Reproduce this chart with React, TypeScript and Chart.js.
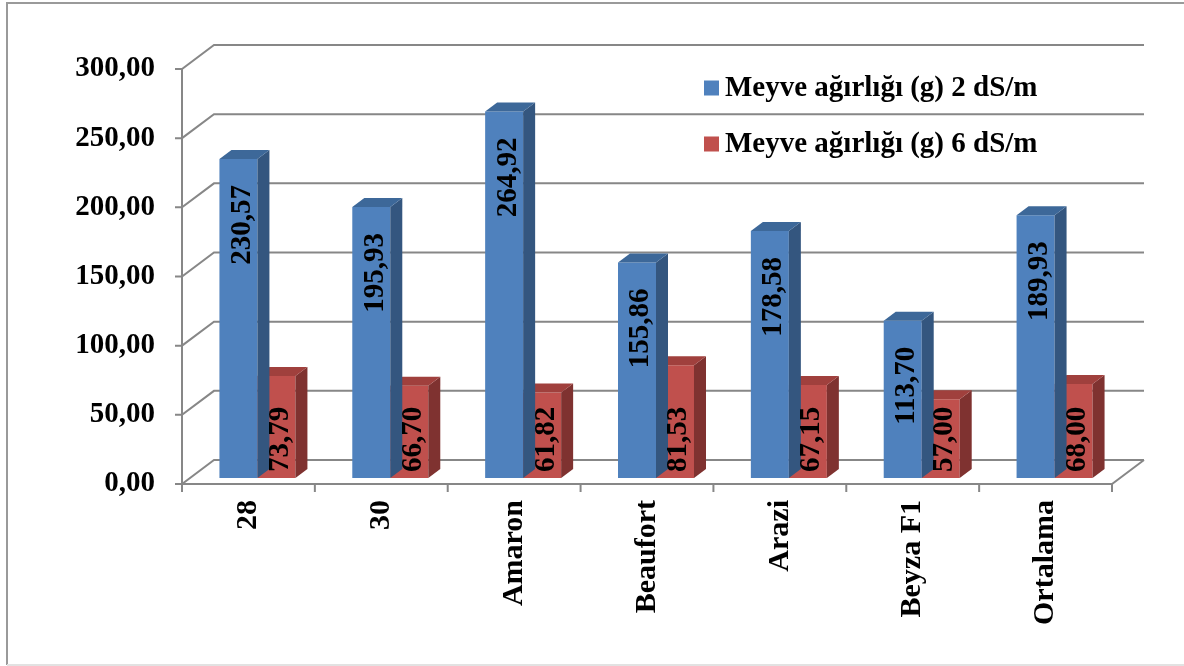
import React, { useEffect, useRef } from "react";
import { Chart, registerables } from "chart.js";

Chart.register(...registerables);

const categories = ["28", "30", "Amaron", "Beaufort", "Arazi", "Beyza F1", "Ortalama"];
const series2dS = [230.57, 195.93, 264.92, 155.86, 178.58, 113.7, 189.93];
const series6dS = [73.79, 66.7, 61.82, 81.53, 67.15, 57.0, 68.0];
const seriesLabels = ["Meyve ağırlığı (g) 2 dS/m", "Meyve ağırlığı (g) 6 dS/m"];
const yMin = 0;
const yMax = 300;
const yStep = 50;

const FRONT = ["#4f81bd", "#c0504d"];
const TOP = ["#3d6899", "#a0403d"];
const SIDE = ["#34567f", "#7f3230"];
const GRID = "#878787";
const FONT = "'Times New Roman', 'Liberation Serif', serif";

const WALL_DX = 32;
const WALL_DY = -24;
const BAR_DX = 9;
const BAR_DY = -6;
const DEPTH_DX = 12;
const DEPTH_DY = -9;

const fmt = (v: number) => v.toFixed(2).replace(".", ",");

const threeD = {
  id: "threeD",
  beforeDraw(chart: any) {
    const ctx = chart.ctx;
    ctx.save();
    ctx.strokeStyle = "#9a9a9a";
    ctx.lineWidth = 2;
    ctx.beginPath();
    ctx.moveTo(7, 665);
    ctx.lineTo(7, 3);
    ctx.lineTo(1190, 3);
    ctx.stroke();
    ctx.strokeStyle = "#e2e2e2";
    ctx.beginPath();
    ctx.moveTo(7, 665);
    ctx.lineTo(1190, 665);
    ctx.stroke();
    ctx.restore();
  },
  beforeDatasetsDraw(chart: any) {
    const ctx = chart.ctx;
    const { left, right, top, bottom } = chart.chartArea;
    const ys = chart.scales.y;
    ctx.save();
    ctx.strokeStyle = GRID;
    ctx.lineWidth = 2;
    ctx.lineCap = "butt";
    for (let v = yMin; v <= yMax; v += yStep) {
      const y = ys.getPixelForValue(v);
      ctx.beginPath();
      ctx.moveTo(left - 7, y);
      ctx.lineTo(left, y);
      ctx.lineTo(left + WALL_DX, y + WALL_DY);
      ctx.lineTo(right + WALL_DX, y + WALL_DY);
      ctx.stroke();
    }
    ctx.beginPath();
    ctx.moveTo(left, top);
    ctx.lineTo(left, bottom);
    ctx.stroke();
    ctx.beginPath();
    ctx.moveTo(left, bottom);
    ctx.lineTo(right, bottom);
    ctx.lineTo(right + WALL_DX, bottom + WALL_DY);
    ctx.stroke();
    const n = categories.length;
    for (let i = 0; i <= n; i++) {
      const x = left + ((right - left) * i) / n;
      ctx.beginPath();
      ctx.moveTo(x, bottom);
      ctx.lineTo(x, bottom + 8);
      ctx.stroke();
    }
    ctx.restore();
    ctx.save();
    ctx.translate(BAR_DX, BAR_DY);
  },
  afterDatasetDraw(chart: any, args: any) {
    const ctx = chart.ctx;
    const idx = args.index;
    const meta = args.meta;
    meta.data.forEach((bar: any) => {
      const { x, y, base, width } = bar.getProps(["x", "y", "base", "width"], true);
      const l = x - width / 2;
      const r = x + width / 2;
      ctx.fillStyle = SIDE[idx];
      ctx.beginPath();
      ctx.moveTo(r, y);
      ctx.lineTo(r + DEPTH_DX, y + DEPTH_DY);
      ctx.lineTo(r + DEPTH_DX, base + DEPTH_DY);
      ctx.lineTo(r, base);
      ctx.closePath();
      ctx.fill();
      ctx.fillStyle = TOP[idx];
      ctx.beginPath();
      ctx.moveTo(l, y);
      ctx.lineTo(l + DEPTH_DX, y + DEPTH_DY);
      ctx.lineTo(r + DEPTH_DX, y + DEPTH_DY);
      ctx.lineTo(r, y);
      ctx.closePath();
      ctx.fill();
    });
  },
  afterDatasetsDraw(chart: any) {
    const ctx = chart.ctx;
    chart.data.datasets.forEach((ds: any, di: number) => {
      const meta = chart.getDatasetMeta(di);
      meta.data.forEach((bar: any, i: number) => {
        const { x, y, base } = bar.getProps(["x", "y", "base"], true);
        ctx.save();
        ctx.font = `bold 29px ${FONT}`;
        ctx.fillStyle = "#000";
        ctx.textBaseline = "middle";
        ctx.translate(x + 4, di === 0 ? y + 26 : base - 6);
        ctx.rotate(-Math.PI / 2);
        ctx.textAlign = di === 0 ? "right" : "left";
        ctx.fillText(fmt(ds.data[i]), 0, 0);
        ctx.restore();
      });
    });
    ctx.restore();
    ctx.save();
    ctx.font = `bold 29px ${FONT}`;
    ctx.textBaseline = "middle";
    ctx.textAlign = "left";
    chart.data.datasets.forEach((ds: any, di: number) => {
      const cy = 88 + di * 56;
      ctx.fillStyle = ds.backgroundColor;
      ctx.fillRect(704, cy - 7.5, 15, 15);
      ctx.fillStyle = "#000";
      ctx.fillText(ds.label, 725, cy + 1);
    });
    ctx.restore();
  },
};

export default function App() {
  const ref = useRef<HTMLCanvasElement>(null);
  useEffect(() => {
    if (!ref.current) return;
    const chart = new Chart(ref.current, {
      type: "bar",
      data: {
        labels: categories,
        datasets: [
          { label: seriesLabels[0], data: series2dS, backgroundColor: FRONT[0], borderWidth: 0, clip: false as any },
          { label: seriesLabels[1], data: series6dS, backgroundColor: FRONT[1], borderWidth: 0, clip: false as any },
        ],
      },
      options: {
        animation: false,
        responsive: false,
        devicePixelRatio: 1,
        layout: { padding: { top: 69, right: 72, left: 0, bottom: 0 } },
        datasets: { bar: { categoryPercentage: 0.572, barPercentage: 1 } },
        plugins: { legend: { display: false }, tooltip: { enabled: false } },
        scales: {
          x: {
            grid: { display: false, drawTicks: false },
            border: { display: false },
            ticks: {
              maxRotation: 90,
              minRotation: 90,
              padding: 16,
              color: "#000",
              font: { family: FONT, size: 30, weight: "bold" },
            },
            afterFit: (s: any) => {
              s.height = 182;
            },
          },
          y: {
            min: yMin,
            max: yMax,
            grid: { display: false, drawTicks: false },
            border: { display: false },
            ticks: {
              stepSize: yStep,
              padding: 27,
              color: "#000",
              font: { family: FONT, size: 29, weight: "bold" },
              callback: (v: any) => fmt(Number(v)),
            },
            afterFit: (s: any) => {
              s.width = 182;
            },
          },
        },
      },
      plugins: [threeD],
    });
    return () => chart.destroy();
  }, []);
  return (
    <div style={{ position: "absolute", left: 0, top: 0, width: 1184, height: 666, background: "#fff" }}>
      <canvas ref={ref} width={1184} height={666} />
    </div>
  );
}
